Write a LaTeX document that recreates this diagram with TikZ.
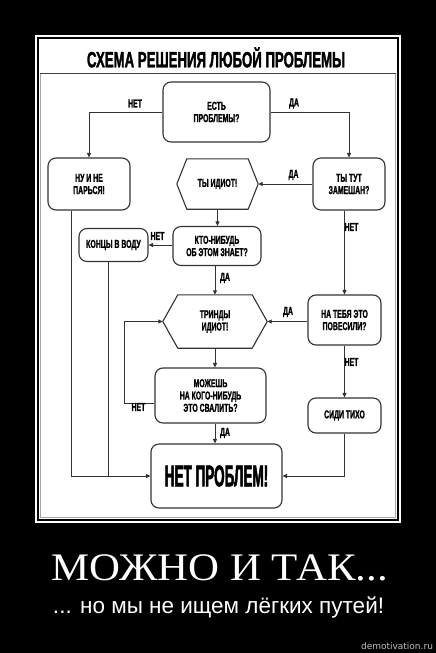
\documentclass[tikz,border=0pt]{standalone}
\usepackage{fontspec}
\setmainfont{Liberation Sans}
\newfontfamily\boxf[FakeStretch=0.6,FakeBold=1.2]{Liberation Sans}
\newfontfamily\bigf[FakeStretch=0.45,FakeBold=1.5]{Liberation Sans}
\newfontfamily\titf[FakeStretch=0.6,FakeBold=1.5]{Liberation Sans}
\newfontfamily\serf[FakeStretch=1.1]{Liberation Serif}
\newfontfamily\wmf{DejaVu Sans}
\usetikzlibrary{arrows.meta}
\newcommand\boxtxt{\boxf\bfseries\fontsize{11.5}{12.3}\selectfont}
\begin{document}
\begin{tikzpicture}[x=1pt,y=-1pt,
  box/.style={draw=black!80, line width=1.1pt, rounded corners=8pt, fill=white,
    align=center, font=\boxtxt, inner sep=0pt},
  hexn/.style={align=center, font=\boxtxt, inner sep=0pt},
  hexd/.style={draw=black!80, line width=1.1pt, line join=round},
  arr/.style={-{Triangle[length=4.5pt,width=4pt]}, line width=0.9pt, draw=black!80},
  ln/.style={line width=0.9pt, draw=black!80},
  lbl/.style={font=\boxtxt, inner sep=0pt}]
\fill[black] (0,0) rectangle (436,653);
\useasboundingbox (0,0) rectangle (436,653);
\draw[white, line width=2.3pt] (36.2,36.2) rectangle (399.8,521.8);
\fill[white] (39,39) rectangle (397,519);
\draw[black!35, line width=0.7pt] (40.5,73) rectangle (395.5,517.5);
\draw[black!75, line width=1pt] (40,73) -- (396,73);

\node[font={\titf\bfseries\fontsize{22}{24}\selectfont}, anchor=base, inner sep=0pt] (title) at (216,67.3) {СХЕМА РЕШЕНИЯ ЛЮБОЙ ПРОБЛЕМЫ};

% nodes
\node[box, minimum width=107pt, minimum height=60pt] (q1) at (216.5,112) {ЕСТЬ\\ПРОБЛЕМЫ?};
\node[box, minimum width=82pt, minimum height=52pt] (nu) at (89,184) {НУ И НЕ\\ПАРЬСЯ!};
\node[hexn, minimum width=61pt, minimum height=50pt] (h1) at (217.5,184) {ТЫ ИДИОТ!};
\coordinate (h1r) at ([xshift=10pt]h1.east);
\coordinate (h1l) at ([xshift=-10pt]h1.west);
\draw[hexd] (h1.north west) -- (h1.north east) -- (h1r) -- (h1.south east) -- (h1.south west) -- (h1l) -- cycle;
\node[box, minimum width=72pt, minimum height=52pt] (tut) at (349,184) {ТЫ ТУТ\\ЗАМЕШАН?};
\node[box, minimum width=88pt, minimum height=39pt] (kto) at (217,246) {КТО-НИБУДЬ\\ОБ ЭТОМ ЗНАЕТ?};
\node[box, minimum width=69pt, minimum height=33pt] (konc) at (113.5,245) {КОНЦЫ В ВОДУ};
\node[hexn, minimum width=74pt, minimum height=53pt] (h2) at (215,321.5) {ТРИНДЫ\\ИДИОТ!};
\coordinate (h2r) at ([xshift=15pt]h2.east);
\coordinate (h2l) at ([xshift=-15pt]h2.west);
\draw[hexd] (h2.north west) -- (h2.north east) -- (h2r) -- (h2.south east) -- (h2.south west) -- (h2l) -- cycle;
\node[box, minimum width=73pt, minimum height=50pt] (pov) at (344.5,320) {НА ТЕБЯ ЭТО\\ПОВЕСИЛИ?};
\node[box, minimum width=111pt, minimum height=55pt] (mozh) at (210.5,395.5) {МОЖЕШЬ\\НА КОГО-НИБУДЬ\\ЭТО СВАЛИТЬ?};
\node[box, minimum width=73pt, minimum height=35pt] (sidi) at (344.5,415.5) {СИДИ ТИХО};
\node[box, minimum width=131pt, minimum height=64pt, font={\bigf\bfseries\fontsize{30}{32}\selectfont}] (nop) at (216.5,476) {НЕТ ПРОБЛЕМ!};

% connectors
\draw[arr] (q1.west) -| (nu.north);
\draw[arr] (q1.east) -| (tut.north);
\draw[arr] (tut.west |- h1r) -- (h1r);
\draw[arr] (h1.south) -- (h1.south |- kto.north);
\draw[arr] (kto.west |- konc.east) -- (konc.east);
\draw[arr] (h2.north |- kto.south) -- (h2.north);
\draw[arr] (tut.south -| pov.north) -- (pov.north);
\draw[arr] (pov.west |- h2r) -- (h2r);
\draw[arr] (pov.south) -- (sidi.north);
\draw[arr] (h2.south) -- (h2.south |- mozh.north);
\draw[arr] ([yshift=-7.5pt]mozh.west) -- ++(-30,0) |- (h2l);
\draw[arr] (h2.south |- mozh.south) -- (h2.south |- nop.north);
\coordinate (nb) at ([xshift=-18pt]nu.south);
\coordinate (kb) at ([xshift=-5.5pt]konc.south);
\draw[arr] (nb) |- (nop.west);
\draw[ln] (kb) -- (kb |- nop.west);
\draw[arr] (sidi.south) |- (nop.east);

% labels
\node[lbl] (l1) at (135,103.5) {НЕТ};
\node[lbl] (l2) at (294,103.5) {ДА};
\node[lbl] (l3) at (293.5,175) {ДА};
\node[lbl] (l4) at (351.5,227) {НЕТ};
\node[lbl] (l5) at (157.5,236) {НЕТ};
\node[lbl] (l6) at (225,278) {ДА};
\node[lbl] (l7) at (288,312) {ДА};
\node[lbl] (l8) at (351.5,362) {НЕТ};
\node[lbl] (l9) at (138.5,407) {НЕТ};
\node[lbl] (l10) at (225,433) {ДА};

% caption
\node[text=white, anchor=base, inner sep=0pt, font={\serf\fontsize{39}{41}\selectfont}] (cap) at (219.5,580) {МОЖНО И ТАК...};
\node[text=white, anchor=base, inner sep=0pt, font={\fontsize{22.5}{24}\selectfont}] (sub) at (218.5,613) {... но мы не ищем лёгких путей!};
\node[text=black!25, anchor=base, inner sep=0pt, font={\wmf\fontsize{9}{10}\selectfont}] (wm) at (397,649.5) {demotivation.ru};
\end{tikzpicture}
\end{document}
